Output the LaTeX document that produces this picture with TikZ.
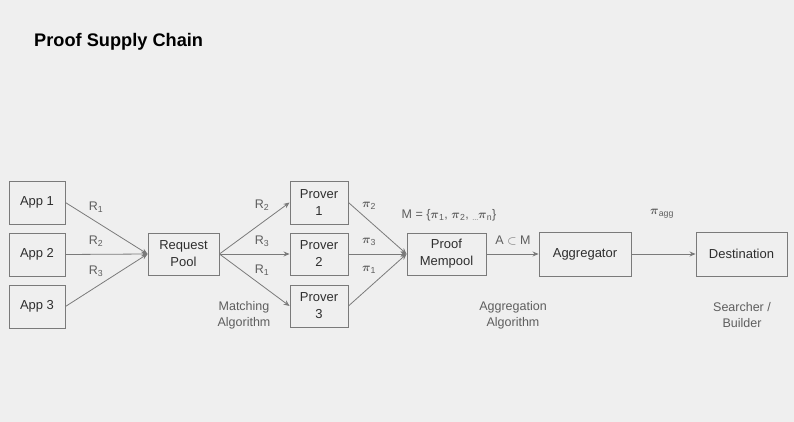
\documentclass[tikz,border=0pt]{standalone}
\usepackage{amsmath}
\usepackage{fontspec}
\setmainfont{Liberation Sans}
\usetikzlibrary{arrows.meta}
\definecolor{bg}{HTML}{EFEFEF}
\definecolor{boxline}{HTML}{7A7A7A}
\definecolor{boxtext}{HTML}{2E2E2E}
\definecolor{lbl}{HTML}{5E5E5E}
\begin{document}
\begin{tikzpicture}[x=1pt,y=-1pt,
  box/.style={draw=boxline,line width=0.9pt,fill=bg,text=boxtext,font=\fontsize{13}{17}\selectfont,align=center,inner sep=0pt},
  lab/.style={text=lbl,font=\fontsize{12.5}{16}\selectfont,align=center,inner sep=0pt},
  conn/.style={draw=boxline,line width=0.8pt,-{Stealth[length=6pt,width=5pt]}}]
\fill[bg] (0,0) rectangle (794,422);
\useasboundingbox (0,0) rectangle (794,422);
\node[anchor=west,text=black,font=\fontsize{18.2}{20}\bfseries\selectfont,inner sep=0pt] (title) at (34,42) {Proof Supply Chain};
% boxes
\node[box,minimum width=56pt,minimum height=43pt] (a1) at (37,202.5) {App 1};
\node[box,minimum width=56pt,minimum height=43pt] (a2) at (37,254.5) {App 2};
\node[box,minimum width=56pt,minimum height=43pt] (a3) at (37,306.5) {App 3};
\node[box,minimum width=71pt,minimum height=42pt] (rp) at (183.5,254) {Request\\Pool};
\node[box,minimum width=58pt,minimum height=43pt] (p1) at (319,202.5) {Prover\\1};
\node[box,minimum width=58pt,minimum height=42pt] (p2) at (319,254) {Prover\\2};
\node[box,minimum width=58pt,minimum height=42pt] (p3) at (319,306) {Prover\\3};
\node[box,minimum width=79pt,minimum height=42pt] (mp) at (446.5,254) {Proof\\Mempool};
\node[box,minimum width=92pt,minimum height=44pt] (ag) at (585,254) {Aggregator};
\node[box,minimum width=91pt,minimum height=44pt] (de) at (741.5,254) {Destination};
% connectors
\draw[conn] (a1.east) -- (rp.west);
\draw[conn] (a2.east) -- (rp.west);
\draw[conn] (a3.east) -- (rp.west);
\draw[conn] (rp.east) -- (p1.west);
\draw[conn] (rp.east) -- (p2.west);
\draw[conn] (rp.east) -- (p3.west);
\draw[conn] (p1.east) -- (mp.west);
\draw[conn] (p2.east) -- (mp.west);
\draw[conn] (p3.east) -- (mp.west);
\draw[conn] (mp.east) -- (ag.west);
\draw[conn] (ag.east) -- (de.west);
% labels
\node[lab] (r1a) at (96,207) {R\textsubscript{1}};
\node[lab] (r2a) at (96,241) {R\textsubscript{2}};
\node[lab] (r3a) at (96,271) {R\textsubscript{3}};
\node[lab] (r2b) at (262,205) {R\textsubscript{2}};
\node[lab] (r3b) at (262,241) {R\textsubscript{3}};
\node[lab] (r1b) at (262,270) {R\textsubscript{1}};
\node[lab] (ma) at (244,315) {Matching\\Algorithm};
\node[lab] (pi2) at (369,206) {$\boldsymbol{\pi}$\textsubscript{2}};
\node[lab] (pi3) at (369,242) {$\boldsymbol{\pi}$\textsubscript{3}};
\node[lab] (pi1) at (369,270) {$\boldsymbol{\pi}$\textsubscript{1}};
\node[lab] (mset) at (449,215) {M = \{$\boldsymbol{\pi}$\textsubscript{1}, $\boldsymbol{\pi}$\textsubscript{2}, \raisebox{-2pt}{\scriptsize ...}$\boldsymbol{\pi}$\textsubscript{n}\}};
\node[lab] (asub) at (513,240) {A $\subset$ M};
\node[lab] (aa) at (513,315) {Aggregation\\Algorithm};
\node[lab] (piagg) at (662,214) {$\boldsymbol{\pi}$\textsubscript{agg}};
\node[lab] (sb) at (742,315) {Searcher /\\Builder};
\end{tikzpicture}
\end{document}
